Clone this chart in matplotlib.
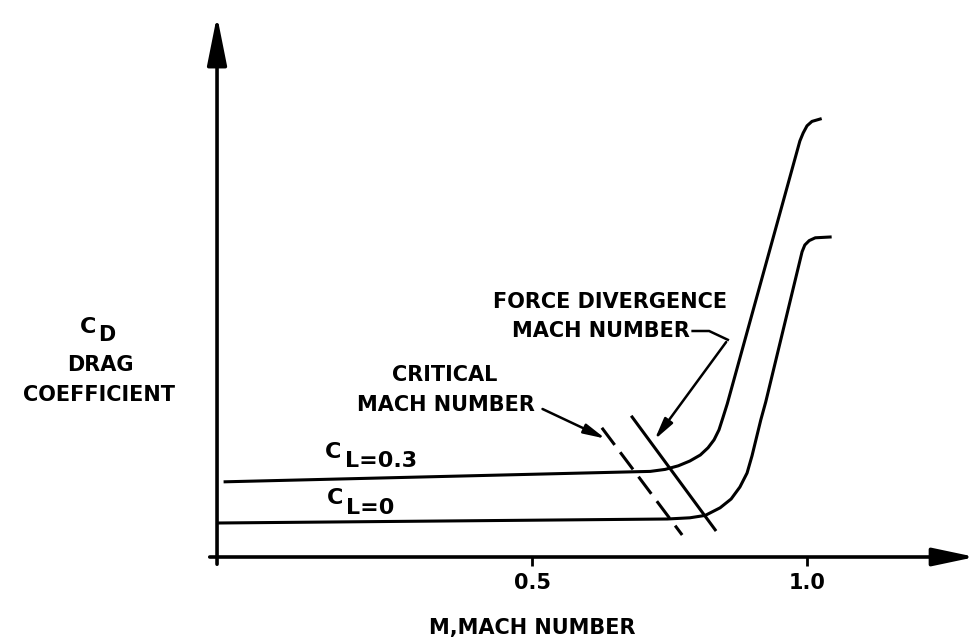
import matplotlib
matplotlib.use("Agg")
import matplotlib.pyplot as plt

plt.rcParams['font.family'] = ['DejaVu Sans']
plt.rcParams['font.weight'] = 'bold'

# drag rise curves, C_L = 0.3 and C_L = 0
mach_cl03 = [-0.058, 0.684, 0.715, 0.742, 0.766, 0.787, 0.806, 0.820, 0.831,
             0.840, 0.847, 0.855, 0.987, 0.993, 1.000, 1.009, 1.024]
cd_cl03 = [0.0188, 0.0213, 0.0214, 0.0219, 0.0228, 0.0240, 0.0255, 0.0273, 0.0293,
           0.0318, 0.0348, 0.0383, 0.1040, 0.1060, 0.1078, 0.1089, 0.1095]

mach_cl0 = [-0.071, 0.746, 0.787, 0.815, 0.842, 0.862, 0.878, 0.891, 0.900,
            0.908, 0.916, 0.925, 0.991, 0.996, 1.004, 1.015, 1.042]
cd_cl0 = [0.0085, 0.0095, 0.0098, 0.0104, 0.0123, 0.0145, 0.0175, 0.0210, 0.0253,
          0.0298, 0.0343, 0.0388, 0.0763, 0.0780, 0.0791, 0.0798, 0.0800]

# critical and force divergence markers crossing the curves
crit_mach = [0.627, 0.773]
crit_cd = [0.0323, 0.0055]
div_mach = [0.682, 0.833]
div_cd = [0.0350, 0.0068]

xticks = [0.5, 1.0]
xticklabels = ['0.5', '1.0']

fig = plt.figure(figsize=(9.74, 6.40), dpi=100)
ax = fig.add_axes([0, 0, 1, 1])
ax.set_xlim(-0.4673, 1.3036)
ax.set_ylim(-0.02075, 0.13925)

for s in ax.spines.values():
    s.set_visible(False)
ax.spines['bottom'].set_position(('data', 0))
ax.set_yticks([])
ax.set_xticks(xticks)
ax.set_xticklabels(xticklabels)
ax.tick_params(axis='x', direction='out', length=6.5, width=2, pad=5, labelsize=15)

y0 = -0.0727  # where the vertical axis sits
# axes with arrow heads
ax.annotate('', xy=(y0, 0.136), xytext=(y0, -0.0025),
            arrowprops=dict(arrowstyle='-|>,head_length=3.0,head_width=0.6',
                            mutation_scale=10, lw=2.6, color='black'))
ax.annotate('', xy=(1.311, 0), xytext=(-0.091, 0), annotation_clip=False,
            arrowprops=dict(arrowstyle='-|>,head_length=2.6,head_width=0.55',
                            mutation_scale=10, lw=2.6, color='black'))

ax.plot(mach_cl03, cd_cl03, color='black', lw=2.2, solid_joinstyle='round')
ax.plot(mach_cl0, cd_cl0, color='black', lw=2.2, solid_joinstyle='round')
ax.plot(crit_mach, crit_cd, color='black', lw=2.2, dashes=(7, 3))
ax.plot(div_mach, div_cd, color='black', lw=2.2)

fs = 15
# y label
ax.text(-0.3218, 0.0575, 'C', fontsize=fs + 1, ha='left', va='center')
ax.text(-0.289, 0.0555, 'D', fontsize=fs, ha='left', va='center')
ax.text(-0.2855, 0.048, 'DRAG', fontsize=fs, ha='center', va='center')
ax.text(-0.287, 0.0405, 'COEFFICIENT', fontsize=fs, ha='center', va='center')

# curve labels
ax.text(0.1236, 0.0263, 'C', fontsize=fs + 1, ha='left', va='center')
ax.text(0.1600, 0.0240, 'L=0.3', fontsize=fs + 1, ha='left', va='center')
ax.text(0.1273, 0.0148, 'C', fontsize=fs + 1, ha='left', va='center')
ax.text(0.1620, 0.0123, 'L=0', fontsize=fs + 1, ha='left', va='center')

# critical Mach number callout
ax.text(0.3418, 0.0455, 'CRITICAL', fontsize=fs, ha='center', va='center')
ax.text(0.3436, 0.0380, 'MACH NUMBER', fontsize=fs, ha='center', va='center')
ax.annotate('', xy=(0.638, 0.0293), xytext=(0.5145, 0.0373),
            arrowprops=dict(arrowstyle='-|>,head_length=1.3,head_width=0.3',
                            mutation_scale=10, lw=1.8, color='black'))

# force divergence callout
ax.text(0.8545, 0.0638, 'FORCE DIVERGENCE', fontsize=fs, ha='right', va='center')
ax.text(0.787, 0.0565, 'MACH NUMBER', fontsize=fs, ha='right', va='center')
ax.plot([0.792, 0.822, 0.856], [0.0565, 0.0565, 0.0543], color='black', lw=1.8,
        solid_joinstyle='miter')
ax.annotate('', xy=(0.720, 0.0288), xytext=(0.856, 0.0543),
            arrowprops=dict(arrowstyle='-|>,head_length=1.3,head_width=0.3',
                            mutation_scale=10, lw=1.8, color='black'))

ax.text(0.5, -0.0178, 'M,MACH NUMBER', fontsize=fs, ha='center', va='center')

fig.savefig('out.png', dpi=100)
